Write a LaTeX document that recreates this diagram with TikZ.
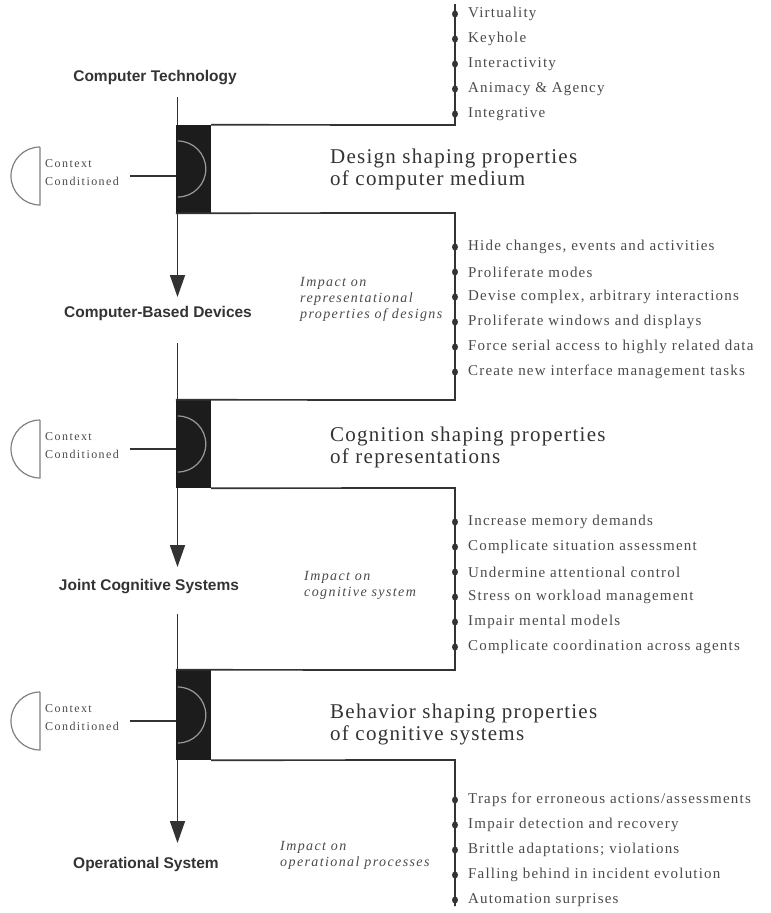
\documentclass[tikz,border=0pt]{standalone}
\usepackage{fontspec}
\setmainfont{Liberation Serif}
\newfontfamily\labfont{Liberation Sans}
\usetikzlibrary{arrows.meta,shapes.geometric}
\definecolor{ink}{HTML}{333333}
\definecolor{boxblack}{HTML}{1C1C1C}
\definecolor{listgray}{HTML}{4A4A4A}
\definecolor{arcgray}{HTML}{9A9A9A}
\begin{document}
\begin{tikzpicture}[x=1pt,y=-1pt,
  line/.style={draw=ink,line width=1.7pt},
  thinline/.style={draw=ink,line width=1.3pt},
  flowarrow/.style={line,-{Triangle[width=15pt,length=22pt]}},
  stagelabel/.style={font=\labfont\bfseries\fontsize{15.5}{18}\selectfont,text=ink,inner sep=0pt},
  listitem/.style={font=\fontsize{15}{17}\selectfont\addfontfeature{LetterSpace=8},text=listgray,anchor=west,inner sep=0pt},
  shaping/.style={font=\fontsize{21}{22}\selectfont\addfontfeature{LetterSpace=6},text=ink,anchor=west,align=left,inner sep=0pt},
  impact/.style={font=\itshape\fontsize{14}{16}\selectfont\addfontfeature{LetterSpace=10},text=listgray,anchor=west,align=left,inner sep=0pt},
  ctxtext/.style={font=\fontsize{12}{18}\selectfont\addfontfeature{LetterSpace=12},text=listgray,anchor=west,align=left,inner sep=0pt},
  dot/.style={ellipse,fill=ink,inner sep=0pt,minimum width=6pt,minimum height=7pt},
  blackbox/.style={fill=boxblack,draw=none,minimum width=35pt,inner sep=0pt},
  innerarc/.style={draw=arcgray,line width=1.2pt},
  ctxshape/.style={draw=gray,line width=1.2pt},
]
\useasboundingbox (0,0) rectangle (771,913);
\def\fx{177.5}
\def\rx{455}

% ---------- stage labels ----------
\node[stagelabel] (ct)  at (155,78)  {Computer Technology};
\node[stagelabel] (cbd) at (158,313) {Computer-Based Devices};
\node[stagelabel] (jcs) at (149,587) {Joint Cognitive Systems};
\node[stagelabel] (ops) at (146,864) {Operational System};

% ---------- black boxes ----------
\node[blackbox,minimum height=88pt] (b1) at (193.5,169) {};
\node[blackbox,minimum height=88pt] (b2) at (193.5,444) {};
\node[blackbox,minimum height=90pt] (b3) at (193.5,715) {};
\foreach \b in {b1,b2,b3}{
  \draw[innerarc] ([xshift=2pt,yshift=28pt]\b.west) arc[start angle=90,end angle=-90,radius=28pt];
}

% ---------- corner coordinates ----------
\coordinate (f0) at (\fx,97);
\coordinate (r1top) at (\rx,4);
\coordinate (r1t) at (\rx,125);
\coordinate (r1b) at (\rx,213);
\coordinate (r2t) at (\rx,400);
\coordinate (r2b) at (\rx,488);
\coordinate (r3t) at (\rx,670);
\coordinate (r3b) at (\rx,760);
\coordinate (r3end) at (\rx,906);

% ---------- flow line and arrows ----------
\draw[line] (f0) -- (f0 |- b1.north);
\draw[flowarrow] (f0 |- b1.south) -- (\fx,297) coordinate (tip1);
\draw[line] (\fx,343) coordinate (s2) -- (s2 |- b2.north);
\draw[flowarrow] (f0 |- b2.south) -- (\fx,567) coordinate (tip2);
\draw[line] (\fx,614) coordinate (s3) -- (s3 |- b3.north);
\draw[flowarrow] (f0 |- b3.south) -- (\fx,843) coordinate (tip3);

% ---------- frame lines ----------
\draw[line] (b1.north east) -- (r1t) -- (r1top);
\draw[line] (b1.south west) -- (r1b) -- (r2t) -- (b2.north west);
\draw[line] (b2.south east) -- (r2b) -- (r3t) -- (b3.north west);
\draw[line] (b3.south east) -- (r3b) -- (r3end);

% ---------- shaping texts ----------
\node[shaping] (sh1) at (330,169) {Design shaping properties\\of computer medium};
\node[shaping] (sh2) at (330,447) {Cognition shaping properties\\of representations};
\node[shaping] (sh3) at (330,724) {Behavior shaping properties\\of cognitive systems};

% ---------- impact texts ----------
\node[impact] (im1) at (300,299) {Impact on\\representational\\properties of designs};
\node[impact] (im2) at (304,585) {Impact on\\cognitive system};
\node[impact] (im3) at (280,855) {Impact on\\operational processes};

% ---------- context conditioned ----------
\foreach \b/\cy [count=\i] in {b1/176,b2/449,b3/721}{
  \draw[ctxshape] (40,\cy-29) -- (40,\cy+29) arc[start angle=-90,end angle=-270,radius=29pt];
  \node[ctxtext] (ctx\i) at (45,\cy-3) {Context\\Conditioned};
  \coordinate (k\i) at (130,\cy);
  \draw[thinline] (k\i) -- (k\i -| \b.west);
}

% ---------- lists ----------
\foreach \t [count=\i] in {Virtuality,Keyhole,Interactivity,{Animacy \& Agency},Integrative}{
  \node[dot] (da\i) at (\rx,{14+25*(\i-1)}) {};
  \node[listitem] (la\i) at (468,{14+25*(\i-1)}) {\t};
}
\foreach \t [count=\i] in {{Hide changes, events and activities},Proliferate modes,{Devise complex, arbitrary interactions},Proliferate windows and displays,Force serial access to highly related data,Create new interface management tasks}{
  \node[dot] (db\i) at (\rx,{247+25*(\i-1)}) {};
  \node[listitem] (lb\i) at (468,{247+25*(\i-1)}) {\t};
}
\foreach \t [count=\i] in {Increase memory demands,Complicate situation assessment,Undermine attentional control,Stress on workload management,Impair mental models,Complicate coordination across agents}{
  \node[dot] (dc\i) at (\rx,{522+25*(\i-1)}) {};
  \node[listitem] (lc\i) at (468,{522+25*(\i-1)}) {\t};
}
\foreach \t [count=\i] in {Traps for erroneous actions/assessments,Impair detection and recovery,Brittle adaptations; violations,Falling behind in incident evolution,Automation surprises}{
  \node[dot] (dd\i) at (\rx,{800+25*(\i-1)}) {};
  \node[listitem] (ld\i) at (468,{800+25*(\i-1)}) {\t};
}
\end{tikzpicture}
\end{document}
